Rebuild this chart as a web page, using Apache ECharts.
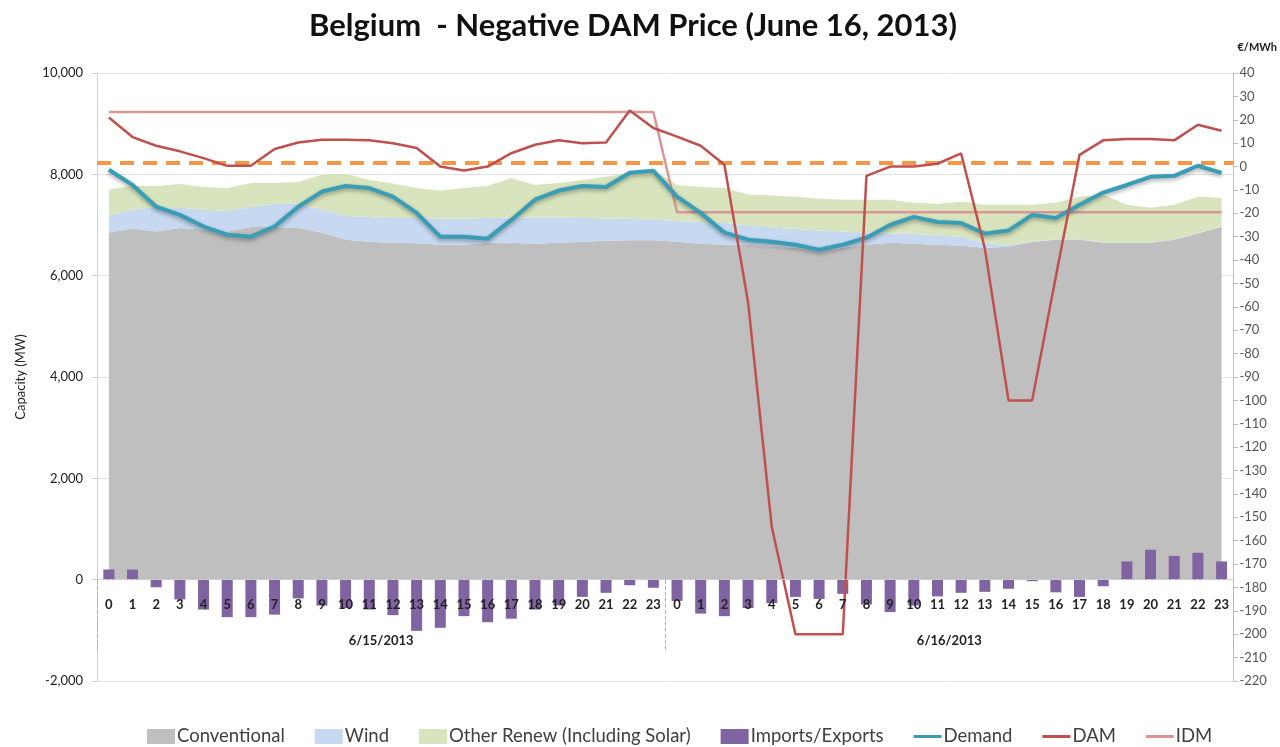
<!DOCTYPE html>
<html>
<head>
<meta charset="utf-8">
<script src="https://cdn.jsdelivr.net/npm/echarts@6/dist/echarts.min.js"></script>
<style>
html,body{margin:0;padding:0;background:#fff;}
#chart{width:1280px;height:747px;}
</style>
</head>
<body>
<div id="chart"></div>
<script>
// ---- data ----
const hours = ['0','1','2','3','4','5','6','7','8','9','10','11','12','13','14','15','16','17','18','19','20','21','22','23',
               '0','1','2','3','4','5','6','7','8','9','10','11','12','13','14','15','16','17','18','19','20','21','22','23'];
const dates = ['6/15/2013', '6/16/2013'];

const conventional = [6850, 6930, 6870, 6940, 6910, 6870, 6960, 6960, 6940, 6850, 6710, 6670, 6650, 6640, 6610, 6610, 6650, 6650, 6630, 6650, 6670, 6690, 6700, 6700,
                      6670, 6630, 6610, 6610, 6570, 6550, 6480, 6550, 6610, 6650, 6630, 6610, 6590, 6550, 6570, 6670, 6710, 6710, 6650, 6650, 6650, 6710, 6830, 6970];
const wind = [330, 370, 490, 400, 390, 410, 400, 460, 480, 450, 470, 490, 490, 500, 520, 520, 490, 500, 520, 500, 470, 440, 420, 410,
              410, 430, 430, 380, 380, 370, 410, 320, 240, 180, 200, 180, 180, 100, 30, 10, 10, 10, 10, 10, 10, 10, 10, 10];
const otherRenew = [520, 470, 410, 470, 450, 450, 470, 410, 430, 690, 830, 730, 680, 590, 550, 600, 630, 780, 640, 680, 750, 820, 910, 970,
                    710, 690, 690, 610, 630, 640, 630, 630, 650, 670, 610, 630, 690, 750, 800, 720, 720, 840, 940, 740, 680, 680, 720, 560];
const importsExports = [200, 200, -150, -390, -590, -740, -740, -690, -370, -510, -560, -590, -700, -1010, -950, -720, -840, -770, -590, -510, -340, -260, -110, -160,
                        -420, -670, -720, -560, -460, -340, -380, -280, -490, -640, -510, -330, -260, -240, -180, -30, -250, -340, -130, 360, 590, 470, 530, 360];
const demand = [8090, 7790, 7360, 7200, 6970, 6810, 6770, 6970, 7360, 7660, 7770, 7730, 7560, 7240, 6770, 6770, 6730, 7100, 7500, 7680, 7770, 7750, 8030, 8070,
                7560, 7240, 6850, 6710, 6670, 6610, 6510, 6610, 6750, 7000, 7160, 7060, 7040, 6830, 6890, 7200, 7140, 7400, 7640, 7790, 7950, 7970, 8170, 8030];
const dam = [21, 12.6, 8.9, 6.5, 3.6, 0.3, 0.3, 7.5, 10.3, 11.5, 11.5, 11.2, 10, 7.9, 0, -1.7, 0, 5.7, 9.3, 11.2, 10, 10.3, 24, 16.5,
             12.8, 8.9, 0.8, -58, -154, -200, -200, -200, -4, 0, 0, 1.2, 5.6, -35, -100, -100, -47, 5, 11.2, 11.8, 11.8, 11.2, 17.9, 15.3];
const idm = [23.3, 23.3, 23.3, 23.3, 23.3, 23.3, 23.3, 23.3, 23.3, 23.3, 23.3, 23.3, 23.3, 23.3, 23.3, 23.3, 23.3, 23.3, 23.3, 23.3, 23.3, 23.3, 23.3, 23.3,
             -19.5, -19.5, -19.5, -19.5, -19.5, -19.5, -19.5, -19.5, -19.5, -19.5, -19.5, -19.5, -19.5, -19.5, -19.5, -19.5, -19.5, -19.5, -19.5, -19.5, -19.5, -19.5, -19.5, -19.5];
const zeroPriceLevel = 1.5;

const capacityTicks = {min: -2000, max: 10000, interval: 2000};
const priceTicks = {min: -220, max: 40, interval: 10};

// ---- chart ----
const FONT = 'Lato, "Open Sans", sans-serif';
const GRID = {left: 97, right: 42, top: 73, bottom: 66};
const PLOT_H = 747 - GRID.top - GRID.bottom;
// distance from grid bottom up to the zero line of the capacity axis
const zeroOffset = -PLOT_H * (0 - capacityTicks.min) / (capacityTicks.max - capacityTicks.min);
const LINE_ICON = 'path://M0,0 L28,0 L28,3 L0,3 Z';

const chart = echarts.init(document.getElementById('chart'), null, {renderer: 'canvas'});

const option = {
  animation: false,
  backgroundColor: '#ffffff',
  textStyle: {fontFamily: FONT},
  title: {
    text: 'Belgium  - Negative DAM Price (June 16, 2013)',
    left: 628,
    textAlign: 'center',
    top: 5,
    textStyle: {fontFamily: FONT, fontSize: 31, fontWeight: 'bold', color: '#111'}
  },
  legend: {
    left: 147,
    top: 727,
    padding: 0,
    itemGap: 30,
    itemWidth: 28,
    itemHeight: 15,
    symbolKeepAspect: true,
    textStyle: {fontFamily: FONT, fontSize: 18.5, color: '#404040', padding: [0, 0, 0, -3]},
    data: [
      {name: 'Conventional', icon: 'rect'},
      {name: 'Wind', icon: 'rect'},
      {name: 'Other Renew (Including Solar)', icon: 'rect'},
      {name: 'Imports/Exports', icon: 'rect'},
      {name: 'Demand', icon: LINE_ICON},
      {name: 'DAM', icon: LINE_ICON},
      {name: 'IDM', icon: LINE_ICON}
    ]
  },
  grid: {left: GRID.left, right: GRID.right, top: GRID.top, bottom: GRID.bottom, containLabel: false},
  xAxis: [
    {
      type: 'category',
      data: hours,
      position: 'bottom',
      offset: zeroOffset,
      boundaryGap: true,
      axisLine: {onZero: false, lineStyle: {color: '#d0d0d0', type: 'dashed', width: 1}},
      axisTick: {show: false},
      axisLabel: {interval: 0, margin: 19, fontFamily: FONT, fontSize: 13, fontWeight: 'bold', color: '#222'},
      splitLine: {show: false},
      z: 10
    },
    {
      type: 'category',
      data: dates,
      position: 'bottom',
      offset: zeroOffset,
      boundaryGap: true,
      axisLine: {show: false, onZero: false},
      axisTick: {show: true, interval: 0, length: 70, lineStyle: {color: '#b0b0b0', type: 'dashed'}},
      axisLabel: {interval: 0, margin: 55, fontFamily: FONT, fontSize: 13, fontWeight: 'bold', color: '#222'},
      splitLine: {show: false},
      z: 10
    }
  ],
  yAxis: [
    {
      type: 'value',
      min: capacityTicks.min, max: capacityTicks.max, interval: capacityTicks.interval,
      position: 'left',
      name: 'Capacity (MW)',
      nameLocation: 'middle',
      nameGap: 70,
      nameTextStyle: {fontFamily: FONT, fontSize: 13, color: '#222'},
      axisLine: {show: true, lineStyle: {color: '#d0d0d0'}},
      axisTick: {show: true, length: 5, lineStyle: {color: '#d0d0d0'}},
      axisLabel: {margin: 14, fontFamily: FONT, fontSize: 13, color: '#222',
                  formatter: v => v.toLocaleString('en-US')},
      splitLine: {show: true, lineStyle: {color: '#e3e3e3'}}
    },
    {
      type: 'value',
      min: priceTicks.min, max: priceTicks.max, interval: priceTicks.interval,
      position: 'right',
      name: '€/MWh',
      nameLocation: 'end',
      nameGap: 20,
      nameTextStyle: {fontFamily: FONT, fontSize: 11, fontWeight: 'bold', color: '#222', align: 'left', padding: [0, 0, 0, 4]},
      axisLine: {show: true, lineStyle: {color: '#bfbfbf'}},
      axisTick: {show: true, length: 5, lineStyle: {color: '#bfbfbf'}},
      axisLabel: {margin: 6, fontFamily: FONT, fontSize: 13, color: '#555'},
      splitLine: {show: false}
    }
  ],
  series: [
    {
      name: 'Conventional', type: 'line', stack: 'cap', data: conventional, z: 2,
      xAxisIndex: 0, yAxisIndex: 0, symbol: 'none', lineStyle: {width: 0},
      itemStyle: {color: '#BFBFBF'}, areaStyle: {color: '#BFBFBF', opacity: 1}
    },
    {
      name: 'Wind', type: 'line', stack: 'cap', data: wind, z: 2,
      xAxisIndex: 0, yAxisIndex: 0, symbol: 'none', lineStyle: {width: 0},
      itemStyle: {color: '#C6D9F1'}, areaStyle: {color: '#C6D9F1', opacity: 1}
    },
    {
      name: 'Other Renew (Including Solar)', type: 'line', stack: 'cap', data: otherRenew, z: 2,
      xAxisIndex: 0, yAxisIndex: 0, symbol: 'none', lineStyle: {width: 0},
      itemStyle: {color: '#D7E4BD'}, areaStyle: {color: '#D7E4BD', opacity: 1}
    },
    {
      name: 'Imports/Exports', type: 'bar', data: importsExports, z: 4,
      xAxisIndex: 0, yAxisIndex: 0, barWidth: 11,
      itemStyle: {color: '#8064A2'}
    },
    {
      name: 'IDM', type: 'line', data: idm, z: 5,
      xAxisIndex: 0, yAxisIndex: 1, symbol: 'none',
      lineStyle: {color: '#D99694', width: 2.5},
      itemStyle: {color: '#D99694'}
    },
    {
      name: 'Demand', type: 'line', data: demand, z: 6,
      xAxisIndex: 0, yAxisIndex: 0, symbol: 'none',
      lineStyle: {color: '#3A9DB6', width: 4, shadowColor: 'rgba(0,0,0,0.35)', shadowBlur: 4, shadowOffsetY: 2},
      itemStyle: {color: '#3A9DB6'}
    },
    {
      name: 'DAM', type: 'line', data: dam, z: 7,
      xAxisIndex: 0, yAxisIndex: 1, symbol: 'none',
      lineStyle: {color: '#C0504D', width: 2.5},
      itemStyle: {color: '#C0504D'},
      markLine: {
        silent: true, symbol: 'none', label: {show: false},
        lineStyle: {color: '#F79646', width: 4, type: [14, 9]},
        data: [{yAxis: zeroPriceLevel}]
      }
    }
  ]
};
chart.setOption(option);
</script>
</body>
</html>
